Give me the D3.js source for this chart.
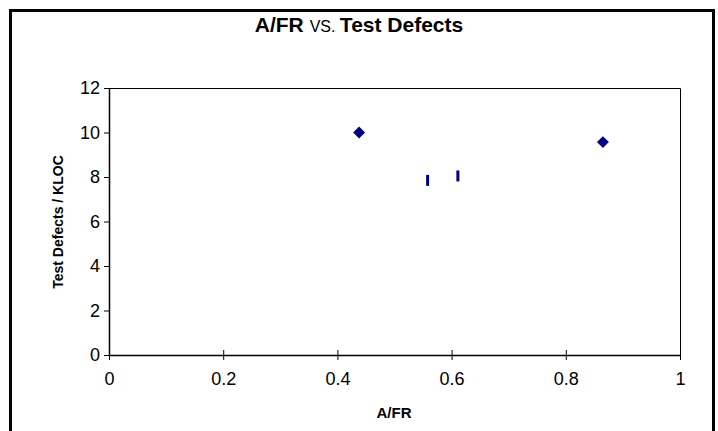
<!DOCTYPE html>
<html><head><meta charset="utf-8">
<script src="https://cdn.jsdelivr.net/npm/d3@7"></script>
<style>
html,body{margin:0;padding:0;background:#fff;}
svg{display:block;}
</style></head>
<body>
<svg id="c" width="718" height="431"></svg>
<script>
// Data
const diamondX = [0.438, 0.865];
const diamondY = [10.0, 9.57];
const barX = [0.558, 0.611];
const barY = [7.87, 8.07];
const xTicks = [0, 0.2, 0.4, 0.6, 0.8, 1];
const yTicks = [0, 2, 4, 6, 8, 10, 12];

const svg = d3.select("#c");
const font = "'Liberation Sans',Arial,sans-serif";
const L = 109, R = 680, T = 88, B = 355;
const x = d3.scaleLinear().domain([0, 1]).range([L, R]);
const y = d3.scaleLinear().domain([0, 12]).range([B, T]);

// outer border
svg.append("rect").attr("x", 10.5).attr("y", 10.5).attr("width", 703).attr("height", 440)
  .attr("fill", "none").attr("stroke", "#000").attr("stroke-width", 3);

// plot frame (top/right)
svg.append("path").attr("d", `M${L},${T}.5H${R}.5V${B}`)
  .attr("fill", "none").attr("stroke", "#000").attr("stroke-width", 1);

// axes
const xAxis = d3.axisBottom(x).tickValues(xTicks).tickFormat(d3.format("")).tickSize(0).tickPadding(18);
const gx = svg.append("g").attr("transform", `translate(0,${B})`).call(xAxis);
gx.selectAll(".tick").append("line").attr("y1", -5).attr("y2", 5).attr("stroke", "#000").attr("stroke-width", 1);

const yAxis = d3.axisLeft(y).tickValues(yTicks).tickFormat(d3.format("")).tickSize(5).tickPadding(4);
const gy = svg.append("g").attr("transform", `translate(${L},0)`).call(yAxis);

svg.selectAll(".tick text").attr("font-family", font).attr("font-size", 18).attr("fill", "#000");
gx.selectAll(".tick text").attr("dy", "0.68em");
gx.select(".domain").attr("d", `M${L},0.5H${R}`).attr("stroke-width", 1.5);
gy.select(".domain").attr("d", `M0.5,${B}V${T}`).attr("stroke-width", 1.5);

// titles
const t = svg.append("text").attr("x", 359).attr("y", 32).attr("text-anchor", "middle")
  .attr("font-family", font).attr("font-size", 21).attr("font-weight", "bold");
t.append("tspan").text("A/FR ");
t.append("tspan").attr("font-weight", "normal").attr("font-size", 16).text("VS. ");
t.append("tspan").text("Test Defects");

svg.append("text").attr("x", 394).attr("y", 418).attr("text-anchor", "middle")
  .attr("font-family", font).attr("font-size", 15).attr("font-weight", "bold").text("A/FR");

svg.append("text").attr("transform", "translate(63,222) rotate(-90)").attr("text-anchor", "middle")
  .attr("font-family", font).attr("font-size", 14).attr("font-weight", "bold").text("Test Defects / KLOC");

// points
svg.selectAll(".dia").data(diamondX).enter().append("path")
  .attr("d", d3.symbol(d3.symbolDiamond2, 90))
  .attr("transform", (d, i) => `translate(${x(d)},${y(diamondY[i])})`)
  .attr("fill", "#000080");

svg.selectAll(".bar").data(barX).enter().append("rect")
  .attr("x", d => x(d) - 1.5).attr("y", (d, i) => y(barY[i]) - 5)
  .attr("width", 3).attr("height", 11).attr("fill", "#000080");
</script>
</body></html>
